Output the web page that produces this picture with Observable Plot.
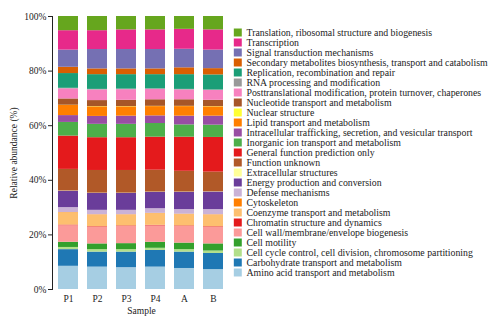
<!DOCTYPE html>
<html><head><meta charset="utf-8">
<script src="https://cdn.jsdelivr.net/npm/d3@7"></script>
<script src="https://cdn.jsdelivr.net/npm/@observablehq/plot@0.6"></script>
<style>
body{margin:0;background:#fff}
#wrap{position:relative;width:490px;height:317px;overflow:hidden}
#chart,#legend{position:absolute;top:0}
#chart{left:0}
#legend{left:228px}
</style>
</head><body>
<div id="wrap"><div id="chart"></div><div id="legend"></div></div>
<script>
const samples = ["P1", "P2", "P3", "P4", "A", "B"];
// bottom -> top stacking order
const categories = [
  "Amino acid transport and metabolism",
  "Carbohydrate transport and metabolism",
  "Cell cycle control, cell division, chromosome partitioning",
  "Cell motility",
  "Cell wall/membrane/envelope biogenesis",
  "Chromatin structure and dynamics",
  "Coenzyme transport and metabolism",
  "Cytoskeleton",
  "Defense mechanisms",
  "Energy production and conversion",
  "Extracellular structures",
  "Function unknown",
  "General function prediction only",
  "Inorganic ion transport and metabolism",
  "Intracellular trafficking, secretion, and vesicular transport",
  "Lipid transport and metabolism",
  "Nuclear structure",
  "Nucleotide transport and metabolism",
  "Posttranslational modification, protein turnover, chaperones",
  "RNA processing and modification",
  "Replication, recombination and repair",
  "Secondary metabolites biosynthesis, transport and catabolism",
  "Signal transduction mechanisms",
  "Transcription",
  "Translation, ribosomal structure and biogenesis"
];
const colors = [
  "#a6cee3", "#1f78b4", "#b2df8a", "#33a02c", "#fb9a99", "#e31a1c",
  "#fdbf6f", "#ff7f00", "#cab2d6", "#6a3d9a", "#ffff99", "#b15928",
  "#e41a1c", "#4daf4a", "#984ea3", "#ff7f00", "#ffff33", "#a65628",
  "#f781bf", "#999999", "#1b9e77", "#d95f02", "#7570b3", "#e7298a", "#66a61e"
];
// relative abundance (%) per sample, same order as categories
const P1 = [8.5, 6.1, 0.8, 1.9, 6.1, 0.2, 4.5, 0.1, 1.8, 6.0, 0.1, 7.9, 12.2, 5.0, 2.5, 3.7, 0.1, 2.3, 3.7, 0.2, 5.4, 2.3, 6.3, 7.1, 5.2];
const P2 = [8.2, 5.5, 0.9, 2.1, 6.1, 0.2, 4.3, 0.1, 1.6, 6.2, 0.1, 8.3, 12.0, 4.9, 2.9, 3.5, 0.1, 2.2, 3.9, 0.2, 5.4, 2.1, 7.1, 6.9, 5.2];
const P3 = [8.0, 5.7, 0.9, 2.2, 6.3, 0.2, 4.0, 0.1, 1.6, 6.2, 0.1, 8.3, 12.0, 4.9, 3.0, 3.4, 0.1, 2.3, 3.9, 0.2, 5.3, 2.1, 7.1, 7.2, 4.9];
const P4 = [8.2, 6.1, 0.8, 2.2, 6.0, 0.2, 4.3, 0.1, 1.7, 6.0, 0.1, 8.0, 12.1, 5.0, 2.8, 3.4, 0.1, 2.4, 3.8, 0.2, 5.2, 2.1, 7.1, 7.2, 4.9];
const A  = [7.7, 6.0, 0.9, 2.4, 6.1, 0.2, 4.2, 0.1, 1.7, 6.3, 0.1, 7.6, 12.5, 4.5, 3.2, 3.5, 0.1, 2.4, 3.6, 0.2, 5.4, 2.5, 6.8, 7.3, 4.7];
const B  = [7.3, 5.9, 0.9, 2.6, 6.1, 0.2, 4.3, 0.1, 1.9, 6.4, 0.1, 7.2, 12.7, 4.5, 3.3, 3.4, 0.1, 2.3, 3.6, 0.2, 5.5, 2.3, 6.8, 7.4, 4.9];
const yTicks = [0, 20, 40, 60, 80, 100];

const series = {P1, P2, P3, P4, A, B};
const rows = [];
for (const s of samples) {
  categories.forEach((c, i) => rows.push({sample: s, category: c, value: series[s][i]}));
}
const legendOrder = categories.slice().reverse();
const font = "'Liberation Serif', 'Times New Roman', serif";

const chart = Plot.plot({
  width: 235, height: 317,
  marginLeft: 52, marginRight: 5, marginTop: 16, marginBottom: 28,
  style: {fontFamily: font, fontSize: "9.5px", color: "#222", background: "white"},
  x: {domain: samples, paddingInner: 0.3, paddingOuter: 0.15},
  y: {domain: [0, 100]},
  color: {domain: categories, range: colors},
  marks: [
    Plot.barY(rows, {x: "sample", y: "value", fill: "category"}),
    Plot.frame({anchor: "left", stroke: "#222"}),
    Plot.axisY({ticks: yTicks, tickFormat: d => d + "%", tickSize: 4, tickPadding: 2,
      fontSize: 9.5, label: "Relative abundance (%)", labelAnchor: "center", labelArrow: "none", labelOffset: 42}),
    Plot.axisX({tickSize: 0, tickPadding: 6, fontSize: 9.5, label: "Sample", labelAnchor: "center",
      labelArrow: "none", labelOffset: 24})
  ]
});
document.getElementById("chart").append(chart);

const legend = Plot.plot({
  width: 262, height: 317, margin: 0,
  style: {fontFamily: font, fontSize: "9.8px", color: "#222", background: "transparent"},
  y: {type: "point", domain: legendOrder, range: [17.5, 286.5], axis: null},
  color: {domain: categories, range: colors},
  marks: [
    Plot.dot(legendOrder, {y: d => d, fill: d => d, symbol: "square", r: 4.5, frameAnchor: "left", dx: 9.3}),
    Plot.text(legendOrder, {y: d => d, text: d => d, frameAnchor: "left", dx: 18, textAnchor: "start",
      fill: "#222", fontSize: 9.8, fontFamily: font})
  ]
});
document.getElementById("legend").append(legend);
</script>
</body></html>
